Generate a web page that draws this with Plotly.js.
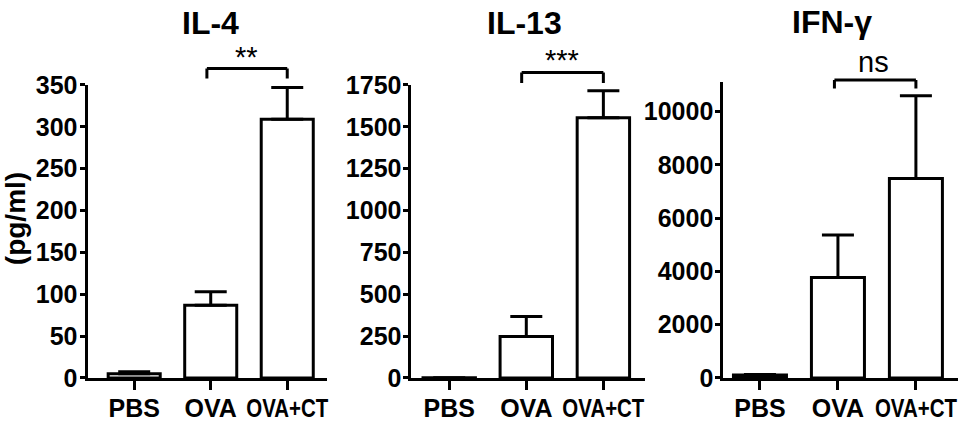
<!DOCTYPE html>
<html>
<head>
<meta charset="utf-8">
<script src="https://cdn.plot.ly/plotly-3.0.1.min.js"></script>
<style>html,body{margin:0;padding:0;background:#fff;}#chart{width:967px;height:422px;}</style>
</head>
<body>
<div id="chart"></div>
<script>
// ---- data ----
var categories = ["PBS", "OVA", "OVA+CT"];
var panelTitles = ["IL-4", "IL-13", "IFN-γ"];
var il4Values = [5, 87, 309];
var il4Errors = [2.5, 16, 38];
var il13Values = [1, 248, 1555];
var il13Errors = [0, 119, 161];
var ifngValues = [110, 3774, 7485];
var ifngErrors = [20, 1592, 3113];
var yRangeMax = [350, 1750, 11110];
var yTickStep = [50, 250, 2000];
var sigLabels = ["**", "***", "ns"];
var yLabel = "(pg/ml)";

var FONT = "'Liberation Sans', Arial, sans-serif";
var seriesVals = [il4Values, il13Values, ifngValues];
var seriesErrs = [il4Errors, il13Errors, ifngErrors];

var xDomains = [[0.0905, 0.3382], [0.4255, 0.667], [0.748, 0.9907]];
var yDomains = [[0.1043, 0.7986], [0.1043, 0.7986], [0.1043, 0.8057]];
var xRanges = [[-0.61, 2.52], [-0.49, 2.54], [-0.47, 2.54]];

var traces = [];
var layout = {
  width: 967, height: 422,
  margin: {l: 0, r: 0, t: 0, b: 0},
  paper_bgcolor: "#fff", plot_bgcolor: "#fff",
  showlegend: false,
  annotations: [], shapes: []
};

for (var i = 0; i < 3; i++) {
  var sfx = i === 0 ? "" : String(i + 1);
  traces.push({
    type: "bar",
    x: categories,
    y: seriesVals[i],
    xaxis: "x" + sfx, yaxis: "y" + sfx,
    width: 0.68,
    marker: {color: "#ffffff", line: {color: "#000", width: 3}},
    error_y: {type: "data", array: seriesErrs[i], arrayminus: seriesErrs[i].map(function(){return 0;}),
              symmetric: false, color: "#000", thickness: 3, width: 16},
    hoverinfo: "none"
  });
  layout["xaxis" + sfx] = {
    domain: xDomains[i], range: xRanges[i], anchor: "y" + sfx,
    type: "category", tickangle: 0,
    showline: true, linecolor: "#000", linewidth: 3,
    ticks: "outside", ticklen: 9, tickwidth: 3, tickcolor: "#000",
    ticklabelstandoff: -3,
    showgrid: false, zeroline: false, fixedrange: true,
    tickfont: {family: FONT, size: 25, color: "#000", weight: "bold"}
  };
  layout["yaxis" + sfx] = {
    domain: yDomains[i], range: [0, yRangeMax[i]], anchor: "x" + sfx,
    dtick: yTickStep[i], tick0: 0, tickformat: "d",
    showline: true, linecolor: "#000", linewidth: 3,
    ticks: "outside", ticklen: 5, tickwidth: 3, tickcolor: "#000",
    ticklabelstandoff: -3,
    showgrid: false, zeroline: false, fixedrange: true,
    tickfont: {family: FONT, size: 25, color: "#000", weight: "bold"}
  };
}

// titles
var titlePos = [[0.2182, 0.9455], [0.5429, 0.9455], [0.8604, 0.948]];
for (var i = 0; i < 3; i++) {
  layout.annotations.push({
    xref: "paper", yref: "paper", x: titlePos[i][0], y: titlePos[i][1],
    xanchor: "center", yanchor: "middle", showarrow: false,
    text: panelTitles[i],
    font: {family: FONT, size: 32, color: "#000", weight: "bold"}
  });
}
// y label
layout.annotations.push({
  xref: "paper", yref: "paper", x: 0.0155, y: 0.483,
  xanchor: "center", yanchor: "middle", showarrow: false, textangle: -90,
  text: yLabel,
  font: {family: FONT, size: 28, color: "#000", weight: "bold"}
});

// significance brackets + labels
var brX = [[0.95, 2.0], [0.94, 2.0], [0.955, 2.0]];
var brY = [[0.8377, 0.8140], [0.8282, 0.8033], [0.8104, 0.7903]];
var sigPos = [[0.2554, 0.864], [0.5812, 0.858], [0.9028, 0.852]];
for (var i = 0; i < 3; i++) {
  var xr = "x" + (i === 0 ? "" : String(i + 1));
  var ln = {color: "#000", width: 3};
  layout.shapes.push({type: "line", xref: xr, yref: "paper", x0: brX[i][0], x1: brX[i][1], y0: brY[i][0], y1: brY[i][0], line: ln});
  layout.shapes.push({type: "line", xref: xr, yref: "paper", x0: brX[i][0], x1: brX[i][0], y0: brY[i][0], y1: brY[i][1], line: ln});
  layout.shapes.push({type: "line", xref: xr, yref: "paper", x0: brX[i][1], x1: brX[i][1], y0: brY[i][0], y1: brY[i][1], line: ln});
  layout.annotations.push({
    xref: "paper", yref: "paper", x: sigPos[i][0], y: sigPos[i][1],
    xanchor: "center", yanchor: "middle", showarrow: false,
    text: sigLabels[i],
    font: {family: FONT, size: 29, color: "#000"}
  });
}

// the reference draws the long category label in a condensed face: squeeze it horizontally
function condenseLabels() {
  var gd = document.getElementById("chart");
  gd.querySelectorAll("text").forEach(function (t) {
    if (t.textContent === categories[2]) {
      t.setAttribute("textLength", "82");
      t.setAttribute("lengthAdjust", "spacingAndGlyphs");
    }
  });
}

var gdiv = document.getElementById("chart");
Plotly.newPlot(gdiv, traces, layout, {displayModeBar: false, staticPlot: true}).then(function () {
  condenseLabels();
  gdiv.on("plotly_afterplot", condenseLabels);
  setTimeout(condenseLabels, 50);
  setTimeout(condenseLabels, 300);
});
</script>
</body>
</html>
